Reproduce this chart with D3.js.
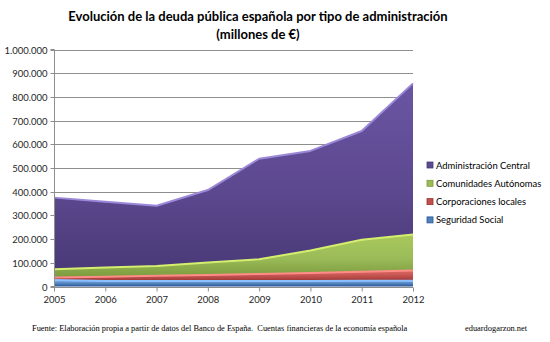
<!DOCTYPE html>
<html>
<head>
<meta charset="utf-8">
<script src="https://cdn.jsdelivr.net/npm/d3@7/dist/d3.min.js"></script>
<style>
  html, body { margin: 0; padding: 0; background: #fff; }
  svg { display: block; }
</style>
</head>
<body>
<svg id="chart" width="550" height="342"></svg>
<script>
// Years on the category axis
const years = ["2005", "2006", "2007", "2008", "2009", "2010", "2011", "2012"];

// Debt by administration, millions of euros
const seguridadSocial      = [27000, 23000, 23000, 23000, 23000, 23000, 24000, 24000];
const corporacionesLocales = [11000, 18000, 22000, 25000, 30000, 34000, 38000, 43000];
const comunidadesAutonomas = [35000, 39000, 42000, 53000, 62000, 95000, 135000, 152000];
const administracionCentral = [302000, 278000, 254000, 306000, 424000, 420000, 459000, 638000];

// Y-axis ticks
const yTicks = [0, 100000, 200000, 300000, 400000, 500000, 600000, 700000, 800000, 900000, 1000000];

const seriesNames = ["Seguridad Social", "Corporaciones locales", "Comunidades Autónomas", "Administración Central"];
const seriesValues = [seguridadSocial, corporacionesLocales, comunidadesAutonomas, administracionCentral];

const palette = {
  "Seguridad Social":       { top: "#7fb2ee", mid: "#4f81bd", bot: "#2a5797", edge: "#8cc0ff" },
  "Corporaciones locales":  { top: "#e06a66", mid: "#c0504d", bot: "#9a3431", edge: "#ff8c88" },
  "Comunidades Autónomas":  { top: "#a9c95c", mid: "#9bbb59", bot: "#7c9a3d", edge: "#d4ee6e" },
  "Administración Central": { top: "#6a55a3", mid: "#5d4990", bot: "#4a3a78", edge: "#9c88d8" }
};

const rows = years.map((y, i) => {
  const r = { year: y };
  seriesNames.forEach((n, k) => { r[n] = seriesValues[k][i]; });
  return r;
});

const svg = d3.select("#chart");
const margin = { left: 54, right: 137, top: 49.5, bottom: 55.5 };
const W = 550, H = 342;

const x = d3.scalePoint().domain(years).range([margin.left, W - margin.right]);
const y = d3.scaleLinear().domain([0, 1000000]).range([H - margin.bottom, margin.top]);

const stack = d3.stack().keys(seriesNames);
const layers = stack(rows);

// gradients
const defs = svg.append("defs");
seriesNames.forEach((n, k) => {
  const g = defs.append("linearGradient")
    .attr("id", "grad" + k).attr("x1", 0).attr("y1", 0).attr("x2", 0).attr("y2", 1);
  g.append("stop").attr("offset", "0%").attr("stop-color", palette[n].top);
  g.append("stop").attr("offset", "55%").attr("stop-color", palette[n].mid);
  g.append("stop").attr("offset", "100%").attr("stop-color", palette[n].bot);
});

// Title
const title = svg.append("g").attr("font-family", "Lato, 'Open Sans', sans-serif")
  .attr("font-weight", "bold").attr("font-size", 13).attr("fill", "#000").attr("text-anchor", "middle");
title.append("text").attr("x", 258).attr("y", 21).text("Evolución de la deuda pública española por tipo de administración");
title.append("text").attr("x", 258).attr("y", 39).text("(millones de €)");

// gridlines
const fmt = v => d3.format(",")(v).replace(/,/g, ".");
svg.append("g").selectAll("line").data(yTicks.filter(d => d > 0)).join("line")
  .attr("x1", margin.left).attr("x2", W - margin.right)
  .attr("y1", d => Math.round(y(d)) + 0.5).attr("y2", d => Math.round(y(d)) + 0.5)
  .attr("stroke", "#8e8e8e").attr("stroke-width", 1);

// areas
const area = d3.area().x(d => x(d.data.year)).y0(d => y(d[0])).y1(d => y(d[1]));
const topLine = d3.line().x(d => x(d.data.year)).y(d => y(d[1]));

const layerG = svg.append("g");
layers.forEach((layer, k) => {
  layerG.append("path").attr("d", area(layer)).attr("fill", `url(#grad${k})`);
});
layers.forEach((layer, k) => {
  layerG.append("path").attr("d", topLine(layer)).attr("fill", "none")
    .attr("stroke", palette[layer.key].edge).attr("stroke-width", 2).attr("stroke-linejoin", "round");
});

// y axis
const yAxis = d3.axisLeft(y).tickValues(yTicks).tickFormat(fmt).tickSize(4).tickPadding(3);
const gy = svg.append("g").attr("transform", `translate(${margin.left + 0.5},0)`).call(yAxis);
gy.select(".domain").attr("stroke", "#8e8e8e").attr("d", `M-4,${y(0)}H0V${y(1000000)}H-4`);
gy.selectAll(".tick line").attr("stroke", "#8e8e8e");
gy.selectAll(".tick").attr("transform", d => `translate(0,${Math.round(y(d)) + 0.5})`);
gy.selectAll("text").attr("font-family", "Lato, 'Open Sans', sans-serif").attr("font-size", 9.5).attr("fill", "#262626");

// x axis
const xAxis = d3.axisBottom(x).tickSize(4).tickPadding(5);
const gx = svg.append("g").attr("transform", `translate(0,${Math.round(y(0)) + 0.5})`).call(xAxis);
gx.select(".domain").attr("stroke", "#8e8e8e").attr("d", `M${margin.left},0H${W - margin.right}`);
gx.selectAll(".tick line").attr("stroke", "#8e8e8e");
gx.selectAll("text").attr("font-family", "Lato, 'Open Sans', sans-serif").attr("font-size", 9.5).attr("fill", "#262626");

// legend (top item is the top layer)
const legendItems = seriesNames.slice().reverse();
const lg = svg.append("g").attr("transform", "translate(427,167)");
legendItems.forEach((n, i) => {
  const g = lg.append("g").attr("transform", `translate(0,${i * 18.3})`);
  g.append("rect").attr("x", 0).attr("y", -5).attr("width", 6).attr("height", 6)
    .attr("fill", palette[n].mid).attr("stroke", palette[n].bot).attr("stroke-width", 0.8);
  g.append("text").attr("x", 9).attr("y", 1.5).text(n)
    .attr("font-family", "Lato, 'Open Sans', sans-serif").attr("font-size", 9.4).attr("fill", "#000");
});

// footer
const foot = svg.append("g").attr("font-family", "'Liberation Serif', 'DejaVu Serif', serif").attr("font-size", 8.4).attr("fill", "#000");
foot.append("text").attr("x", 32).attr("y", 331)
  .text("Fuente: Elaboración propia a partir de datos del Banco de España.  Cuentas financieras de la economía española")
  .style("white-space", "pre");
foot.append("text").attr("x", 465).attr("y", 331).text("eduardogarzon.net");
</script>
</body>
</html>
